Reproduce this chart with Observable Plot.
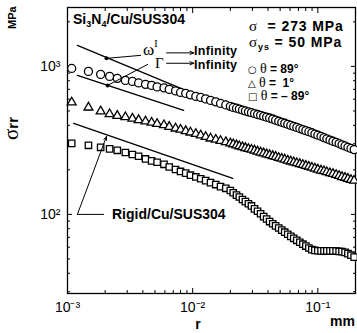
<!DOCTYPE html>
<html>
<head>
<meta charset="utf-8">
<script src="https://cdn.jsdelivr.net/npm/d3@7"></script>
<script src="https://cdn.jsdelivr.net/npm/@observablehq/plot@0.6"></script>
<style>
html,body{margin:0;padding:0;background:#fff;}
#chart svg{display:block;}
</style>
</head>
<body>
<div id="chart"></div>
<script>
// ---------- data ----------
const rValues = [0.00108, 0.00147, 0.00184, 0.00217, 0.0025, 0.0029, 0.0033, 0.0037, 0.0042, 0.0047,
  0.0052, 0.0059, 0.0065, 0.0073, 0.008, 0.0088, 0.0096, 0.0106, 0.0116, 0.0127,
  0.0139, 0.0153, 0.0167, 0.0184, 0.02,
  0.0211, 0.0224, 0.0236, 0.025, 0.0264, 0.0279, 0.0295, 0.0312, 0.033, 0.0349,
  0.0369, 0.039, 0.0412, 0.0436, 0.046, 0.0487, 0.0515, 0.0544, 0.0575, 0.0608,
  0.0642, 0.0679, 0.0718, 0.0759, 0.0802, 0.0848, 0.0896, 0.0947, 0.1,
  0.106, 0.112, 0.118, 0.125, 0.132, 0.14, 0.148, 0.156, 0.165, 0.174, 0.184, 0.195];

const sigmaTheta89 = [969, 925, 883, 856, 830, 804, 792, 773, 756, 744,
  727, 716, 699, 683, 667, 657, 642, 627, 617, 603,
  589, 576, 562, 549, 537,
  528, 522, 515, 507, 500, 493, 487, 480, 473, 467,
  460, 454, 448, 441, 433, 426, 419, 413, 406, 399,
  393, 387, 380, 374, 368, 362, 356, 349, 343,
  337, 330, 324, 318, 312, 307, 301, 295, 290, 284, 279, 274];

const sigmaTheta1 = [571, 528, 497, 476, 464, 454, 444, 434, 425, 417,
  409, 401, 391, 381, 374, 366, 358, 350, 342, 334,
  326, 320, 314, 308, 302,
  298, 293, 289, 285, 281, 277, 274, 270, 266, 262,
  259, 255, 252, 248, 245, 241, 238, 235, 231, 228,
  225, 222, 219, 216, 213, 210, 207, 204, 201,
  198, 196, 193, 190, 188, 185, 182, 179, 177, 174, 171, 169];

const sigmaThetaMinus89 = [302, 293, 284, 277, 271, 262, 254, 247, 237, 230,
  225, 218, 209, 201, 195, 190, 184, 179, 174, 169,
  164, 159, 154, 150, 145,
  140, 135, 131, 126, 122, 118, 114, 109, 105, 101,
  96.6, 93.1, 89.4, 86.4, 83.6, 80.9, 78.3, 75.8, 73.4, 71.0,
  68.9, 66.8, 64.8, 62.9, 61.1, 59.3, 57.8, 57.1, 56.8,
  56.7, 56.7, 56.7, 56.7, 56.7, 56.5, 56.2, 56.0, 55.4, 54.3, 53.0, 51.4];

// asymptotic reference lines
const omegaLineR = [0.0012, 0.00879];
const omegaLineS = [1387, 688];
const gammaLineR = [0.0012, 0.00847];
const gammaLineS = [870, 504];
const rigidLineR = [0.00112, 0.0209];
const rigidLineS = [412, 175];

// leaders / arrows
const omegaLeaderR = [0.00384, 0.00205];
const omegaLeaderS = [1187, 1133];
const gammaLeaderR = [0.00437, 0.00209];
const gammaLeaderS = [1031, 744];
const infinityArrowR1 = [0.00619, 0.00619];
const infinityArrowR2 = [0.0102, 0.0102];
const infinityArrowS = [1234, 1050];
const rigidLeaderR = [0.00194, 0.0012];
const rigidLeaderS = [100, 100];
const rigidArrowR = [0.0012, 0.00205];
const rigidArrowS = [100, 336.7];

// ticks
const xMajorTicks = [0.001, 0.01, 0.1];
const xTickLabels = ["10⁻³", "10⁻²", "10⁻¹"];
const xMinorTicks = [0.002, 0.003, 0.004, 0.005, 0.006, 0.007, 0.008, 0.009,
  0.02, 0.03, 0.04, 0.05, 0.06, 0.07, 0.08, 0.09];
const yMajorTicks = [100, 1000];
const yTickLabels = ["10²", "10³"];
const yMinorTicks = [30, 40, 50, 60, 70, 80, 90, 200, 300, 400, 500, 600, 700, 800, 900, 2000];

// ---------- build ----------
const rows = (ys) => rValues.map((r, i) => ({r, s: ys[i]}));
const seg = (rs, ss) => rs.map((r, i) => ({r, s: ss[i]}));
const SANS = "'Liberation Sans', Arial, Helvetica, sans-serif";
const SERIF = "'Liberation Serif', 'Times New Roman', serif";

const tickAxis = (fn, ticks, size, anchor) => fn(ticks, {anchor, tickSize: -size, fill: "none", stroke: "black", label: null, strokeWidth: 1});

const chart = Plot.plot({
  width: 357,
  height: 333,
  marginLeft: 67,
  marginRight: 2,
  marginTop: 7,
  marginBottom: 40,
  x: {type: "log", domain: [0.001, 0.2]},
  y: {type: "log", domain: [29.2, 2500]},
  style: {fontFamily: SANS, fontSize: "13px", color: "black", background: "white"},
  marks: [
    tickAxis(Plot.axisX, xMajorTicks, 5, "bottom"),
    tickAxis(Plot.axisX, xMinorTicks, 3, "bottom"),
    tickAxis(Plot.axisX, xMajorTicks, 5, "top"),
    tickAxis(Plot.axisX, xMinorTicks, 3, "top"),
    tickAxis(Plot.axisY, yMajorTicks, 5, "left"),
    tickAxis(Plot.axisY, yMinorTicks, 3, "left"),
    tickAxis(Plot.axisY, yMajorTicks, 5, "right"),
    tickAxis(Plot.axisY, yMinorTicks, 3, "right"),
    Plot.axisX(xMajorTicks, {anchor: "bottom", tickSize: 0, tickPadding: 9, label: null, fontSize: 14,
      tickFormat: d => xTickLabels[xMajorTicks.indexOf(d)]}),
    Plot.axisY(yMajorTicks, {anchor: "left", tickSize: 0, tickPadding: 7, label: null, fontSize: 14,
      tickFormat: d => yTickLabels[yMajorTicks.indexOf(d)]}),
    Plot.frame({stroke: "black", strokeWidth: 1.3}),
    Plot.line(seg(omegaLineR, omegaLineS), {x: "r", y: "s", stroke: "black", strokeWidth: 1.3}),
    Plot.line(seg(gammaLineR, gammaLineS), {x: "r", y: "s", stroke: "black", strokeWidth: 1.3}),
    Plot.line(seg(rigidLineR, rigidLineS), {x: "r", y: "s", stroke: "black", strokeWidth: 1.3}),
    Plot.dot(rows(sigmaTheta89), {x: "r", y: "s", symbol: "circle", r: 4, stroke: "black", fill: "white", strokeWidth: 1.3}),
    Plot.dot(rows(sigmaTheta1), {x: "r", y: "s", symbol: "triangle", r: 3.3, stroke: "black", fill: "white", strokeWidth: 1.3}),
    Plot.dot(rows(sigmaThetaMinus89), {x: "r", y: "s", symbol: "square", r: 3.6, stroke: "black", fill: "white", strokeWidth: 1.3}),
    Plot.line(seg(omegaLeaderR, omegaLeaderS), {x: "r", y: "s", stroke: "black", strokeWidth: 1}),
    Plot.line(seg(gammaLeaderR, gammaLeaderS), {x: "r", y: "s", stroke: "black", strokeWidth: 1}),
    Plot.dot([{r: omegaLeaderR[1], s: omegaLeaderS[1]}, {r: gammaLeaderR[1], s: gammaLeaderS[1]}], {x: "r", y: "s", r: 2, fill: "black"}),
    Plot.arrow(infinityArrowS.map((s, i) => ({r1: infinityArrowR1[i], r2: infinityArrowR2[i], s})),
      {x1: "r1", x2: "r2", y1: "s", y2: "s", stroke: "black", strokeWidth: 1, headLength: 6, headAngle: 45}),
    Plot.line(seg(rigidLeaderR, rigidLeaderS), {x: "r", y: "s", stroke: "black", strokeWidth: 1}),
    Plot.arrow([{r1: rigidArrowR[0], s1: rigidArrowS[0], r2: rigidArrowR[1], s2: rigidArrowS[1]}],
      {x1: "r1", y1: "s1", x2: "r2", y2: "s2", stroke: "black", strokeWidth: 1, headLength: 6, headAngle: 40})
  ]
});
document.getElementById("chart").append(chart);

// ---------- annotations ----------
const svg = d3.select(chart);
function rich(x, y, parts, opt = {}) {
  const t = svg.append("text").attr("x", x).attr("y", y)
    .attr("text-anchor", opt.anchor || "start")
    .attr("font-family", opt.family || SANS)
    .attr("font-size", opt.size || 13)
    .attr("font-weight", opt.weight || "bold")
    .attr("fill", "black");
  if (opt.spacing) t.attr("letter-spacing", opt.spacing);
  if (opt.rotate) t.attr("transform", `rotate(${opt.rotate},${x},${y})`);
  let shift = 0;
  for (const p of parts) {
    const [txt, o = {}] = Array.isArray(p) ? p : [p];
    const target = o.shift || 0;
    const ts = t.append("tspan").text(txt).attr("dy", target - shift);
    shift = target;
    if (o.size) ts.attr("font-size", o.size);
    if (o.family) ts.attr("font-family", o.family);
    if (o.weight) ts.attr("font-weight", o.weight);
    if (o.dx) ts.attr("dx", o.dx);
  }
  return t;
}
const sub = (s, size = 9) => [s, {shift: 3, size}];
const greek = (s, size = 16) => [s, {family: SERIF, weight: "normal", size}];

rich(73, 24, ["Si", sub("3"), "N", sub("4"), "/Cu/SUS304"], {size: 14});
rich(143, 55, [greek("ω", 17), ["I", {shift: -8, size: 10, family: SERIF, weight: "normal"}]]);
rich(155, 68, [greek("Γ", 15)]);
rich(194, 54.5, ["Infinity"], {size: 12.5, spacing: 0.3});
rich(194, 68.5, ["Infinity"], {size: 12.5, spacing: 0.3});
rich(112, 219, ["Rigid/Cu/SUS304"], {size: 14});

// legend block
rich(249, 31, [greek("σ", 15), ["  = 273 MPa", {size: 14}]], {spacing: 0.9});
rich(249, 47, [greek("σ", 15), ["ys", {shift: 3, size: 9}], [" = 50 MPa", {shift: 0, size: 14}]], {spacing: 0.9});
rich(248, 73, [["○ ", {family: "'DejaVu Sans'", weight: "normal", size: 10}], greek("θ", 14), [" = 89°", {size: 12}]]);
rich(248, 87, [["△ ", {family: "'DejaVu Sans'", weight: "normal", size: 10}], greek("θ", 14), [" =  1°", {size: 12}]]);
rich(248, 100, [["□ ", {family: "'DejaVu Sans'", weight: "normal", size: 10}], greek("θ", 14), [" = – 89°", {size: 12}]]);

// axis titles
rich(18, 140, [greek("σ", 21), ["rr", {size: 15, weight: "bold", shift: 0}]], {rotate: -90});
rich(16, 29, ["MPa"], {size: 11, rotate: -90});
rich(198, 329, ["r"], {size: 14, anchor: "middle"});
rich(355, 326, ["mm"], {size: 14, anchor: "end"});
</script>
</body>
</html>
